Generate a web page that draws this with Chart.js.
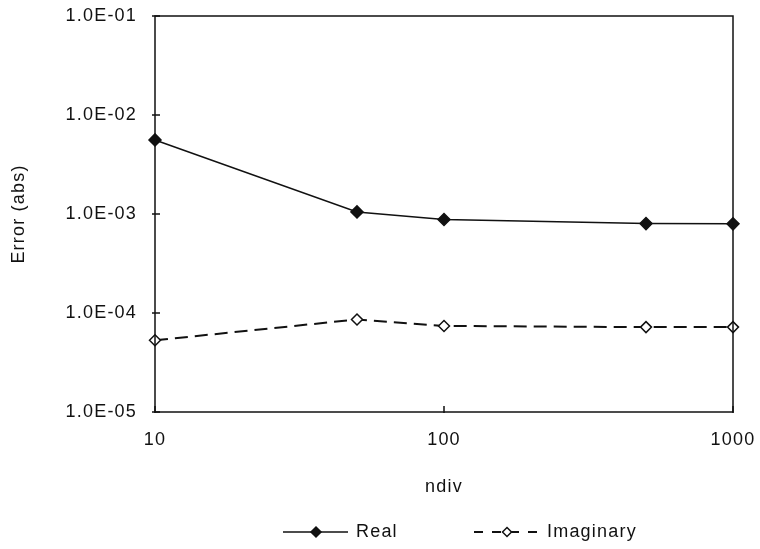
<!DOCTYPE html>
<html>
<head>
<meta charset="utf-8">
<script src="https://cdn.jsdelivr.net/npm/chart.js@4.4.1/dist/chart.umd.min.js"></script>
<style>
  html, body { margin: 0; padding: 0; background: #fff; }
  #wrap { width: 760px; height: 549px; position: relative; }
</style>
</head>
<body>
<div id="wrap"><canvas id="c" width="760" height="549"></canvas></div>
<script>
// ---- data ----
const ndiv = [10, 50, 100, 500, 1000];
const realErr = [5.6e-3, 1.05e-3, 8.8e-4, 8.0e-4, 7.95e-4];
const imagErr = [5.3e-5, 8.6e-5, 7.4e-5, 7.2e-5, 7.2e-5];
const xTicks = [10, 100, 1000];
const yTicks = [1e-5, 1e-4, 1e-3, 1e-2, 1e-1];
const seriesNames = ['Real', 'Imaginary'];
const xTitle = 'ndiv';
const yTitle = 'Error (abs)';

const INK = '#111';
const FONT = 'Liberation Sans, Arial, sans-serif';
const FS = 18;
const SPACING = '1.2px';

function fmtExp(v) {
  const e = Math.round(Math.log10(v));
  const s = e < 0 ? '-' : '+';
  const a = Math.abs(e);
  return '1.0E' + s + (a < 10 ? '0' + a : '' + a);
}

function diamond(g, x, y, r, filled) {
  g.beginPath();
  g.moveTo(x, y - r); g.lineTo(x + r, y); g.lineTo(x, y + r); g.lineTo(x - r, y); g.closePath();
  g.fillStyle = filled ? INK : '#fff';
  g.fill();
  g.lineWidth = 1.5;
  g.strokeStyle = INK;
  g.stroke();
}

const spacing = {
  id: 'spacing',
  beforeDraw(chart) { chart.ctx.letterSpacing = SPACING; }
};

const frame = {
  id: 'frame',
  afterDatasetsDraw(chart) {
    const {ctx, chartArea: a, scales} = chart;
    ctx.save();
    ctx.strokeStyle = INK;
    ctx.lineWidth = 1.5;
    ctx.strokeRect(a.left, a.top, a.right - a.left, a.bottom - a.top);
    ctx.beginPath();
    yTicks.forEach(v => {
      const y = scales.y.getPixelForValue(v);
      ctx.moveTo(a.left - 3, y); ctx.lineTo(a.left + 5, y);
    });
    xTicks.forEach(v => {
      const x = scales.x.getPixelForValue(v);
      ctx.moveTo(x, a.bottom + 1); ctx.lineTo(x, a.bottom - 6);
    });
    ctx.stroke();
    ctx.restore();
  }
};

// legend drawn below the x-axis title
const legendBox = {
  id: 'legendBox',
  afterDraw(chart) {
    const ctx = chart.ctx;
    const y = chart.height - 17;
    const items = [
      { x0: 283, dashed: false, filled: true },
      { x0: 474, dashed: true, filled: false }
    ];
    ctx.save();
    ctx.letterSpacing = SPACING;
    items.forEach((it, i) => {
      ctx.strokeStyle = INK;
      ctx.lineWidth = it.dashed ? 2 : 1.5;
      ctx.setLineDash(it.dashed ? [9, 9] : []);
      ctx.beginPath(); ctx.moveTo(it.x0, y); ctx.lineTo(it.x0 + 65, y); ctx.stroke();
      ctx.setLineDash([]);
      diamond(ctx, it.x0 + 33, y, it.filled ? 5 : 4.5, it.filled);
      ctx.fillStyle = INK;
      ctx.font = FS + 'px ' + FONT;
      ctx.textAlign = 'left';
      ctx.textBaseline = 'middle';
      ctx.fillText(seriesNames[i], it.x0 + 73, y);
    });
    ctx.restore();
  }
};

new Chart(document.getElementById('c'), {
  type: 'line',
  data: {
    datasets: [
      {
        label: seriesNames[0],
        data: ndiv.map((x, i) => ({x, y: realErr[i]})),
        borderColor: INK, borderWidth: 1.5,
        pointStyle: 'rectRot', pointRadius: 6,
        pointBackgroundColor: INK, pointBorderColor: INK, pointBorderWidth: 1.5,
        tension: 0, fill: false, clip: false
      },
      {
        label: seriesNames[1],
        data: ndiv.map((x, i) => ({x, y: imagErr[i]})),
        borderColor: INK, borderWidth: 2, borderDash: [13, 7],
        pointStyle: 'rectRot', pointRadius: 5.5,
        pointBackgroundColor: '#fff', pointBorderColor: INK, pointBorderWidth: 1.5,
        tension: 0, fill: false, clip: false
      }
    ]
  },
  options: {
    responsive: false,
    animation: false,
    layout: { padding: { top: 16, right: 27, left: 0, bottom: 47 } },
    plugins: {
      tooltip: { enabled: false },
      legend: { display: false }
    },
    scales: {
      x: {
        type: 'logarithmic',
        min: 10, max: 1000,
        grid: { display: false },
        border: { display: false },
        afterBuildTicks(s) { s.ticks = xTicks.map(v => ({value: v})); },
        afterFit(s) { s.height = 90; s.paddingLeft = 0; s.paddingRight = 0; },
        ticks: {
          color: INK, font: { family: FONT, size: FS }, padding: 9,
          maxRotation: 0, autoSkip: false,
          callback: v => String(v)
        },
        title: {
          display: true, text: xTitle, color: INK,
          font: { family: FONT, size: FS }, padding: { top: 0, bottom: 4 }
        }
      },
      y: {
        type: 'logarithmic',
        min: 1e-5, max: 1e-1,
        grid: { display: false },
        border: { display: false },
        afterBuildTicks(s) { s.ticks = yTicks.map(v => ({value: v})); },
        afterFit(s) { s.width = 155; s.paddingTop = 0; s.paddingBottom = 0; },
        ticks: {
          color: INK, font: { family: FONT, size: FS }, padding: 10,
          autoSkip: false,
          callback: v => fmtExp(v)
        },
        title: {
          display: true, text: yTitle, color: INK,
          font: { family: FONT, size: FS }, padding: { top: 8, bottom: 0 }
        }
      }
    }
  },
  plugins: [spacing, frame, legendBox]
});
</script>
</body>
</html>
